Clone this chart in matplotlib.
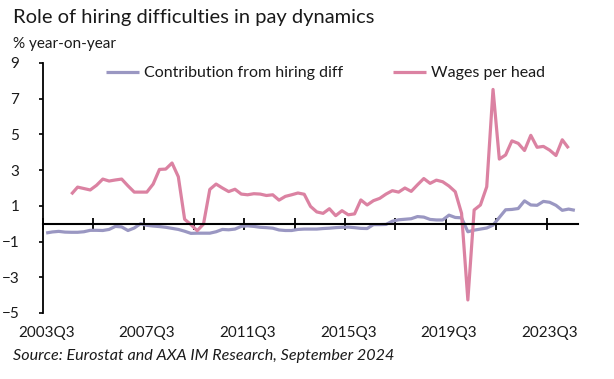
import numpy as np
import matplotlib
matplotlib.use("Agg")
import matplotlib.pyplot as plt

plt.rcParams['font.family'] = ['Lato', 'DejaVu Sans']

nan = float('nan')

# quarters 2003Q3 .. 2024Q3
quarters = [f"{2003 + (q + 2) // 4}Q{(q + 2) % 4 + 1}" for q in range(85)]

hiring_contrib = [
    -0.52, -0.46, -0.43, -0.47, -0.48, -0.48, -0.45, -0.37, -0.37, -0.38,
    -0.32, -0.15, -0.18, -0.38, -0.24, 0.00, -0.09, -0.13, -0.16, -0.20,
    -0.26, -0.32, -0.42, -0.54, -0.53, -0.53, -0.53, -0.45, -0.32, -0.34,
    -0.30, -0.15, -0.12, -0.15, -0.20, -0.22, -0.25, -0.35, -0.38, -0.38,
    -0.32, -0.30, -0.30, -0.30, -0.27, -0.25, -0.22, -0.20, -0.19, -0.22,
    -0.26, -0.27, -0.05, -0.05, -0.04, 0.14, 0.22, 0.25, 0.28, 0.40,
    0.37, 0.24, 0.21, 0.21, 0.48, 0.35, 0.33, -0.45, -0.36, -0.30,
    -0.24, -0.08, 0.35, 0.78, 0.80, 0.85, 1.28, 1.05, 1.03, 1.25,
    1.20, 1.03, 0.75, 0.82, 0.75,
]

wages_per_head = [
    nan, nan, nan, nan, 1.65, 2.05, 1.97, 1.89, 2.15, 2.50,
    2.39, 2.45, 2.50, 2.12, 1.77, 1.77, 1.77, 2.22, 3.04, 3.06,
    3.40, 2.63, 0.25, -0.05, -0.39, -0.02, 1.92, 2.22, 2.00, 1.80,
    1.93, 1.66, 1.62, 1.68, 1.66, 1.58, 1.62, 1.32, 1.53, 1.62,
    1.72, 1.65, 0.97, 0.66, 0.58, 0.84, 0.45, 0.73, 0.50, 0.55,
    1.33, 1.05, 1.29, 1.42, 1.66, 1.85, 1.77, 2.00, 1.81, 2.18,
    2.53, 2.26, 2.44, 2.35, 2.11, 1.79, 0.58, -4.27, 0.77, 1.05,
    2.07, 7.52, 3.62, 3.85, 4.64, 4.50, 4.10, 4.95, 4.28, 4.33,
    4.12, 3.82, 4.70, 4.23, nan,
]

y_ticks = [-5, -3, -1, 1, 3, 5, 7, 9]
label_every = 16
tick_every = 8

PURPLE = '#9a97c2'
PINK = '#db82a2'
TEXT = '#1a1a1a'

x = np.arange(len(quarters))

fig = plt.figure(figsize=(6.14, 3.79), dpi=100)
ax = fig.add_axes([43 / 614, 1 - 313 / 379, 535 / 614, 250 / 379])

ax.plot(x, hiring_contrib, color=PURPLE, lw=2.3, label='Contribution from hiring diff',
        solid_capstyle='butt')
ax.plot(x, wages_per_head, color=PINK, lw=2.3, label='Wages per head',
        solid_capstyle='butt')

ax.set_xlim(-0.5, len(quarters) - 0.5)
ax.set_ylim(-5, 9)
ax.set_yticks(y_ticks)
ax.tick_params(axis='y', direction='out', length=3, width=1.2, pad=14, labelsize=11,
               labelcolor=TEXT)

# zero line carries the x tick marks
ax.spines['top'].set_visible(False)
ax.spines['right'].set_visible(False)
ax.spines['left'].set_linewidth(1.3)
ax.spines['bottom'].set_position(('data', 0))
ax.spines['bottom'].set_linewidth(1.5)
ax.set_xticks(np.arange(-0.5, len(quarters), tick_every))
ax.tick_params(axis='x', direction='inout', length=8, width=1.3, labelbottom=False)

# category labels under the plot area
sec = ax.secondary_xaxis('bottom')
sec.set_xticks(x[::label_every])
sec.set_xticklabels(quarters[::label_every])
sec.tick_params(length=0, pad=9, labelsize=11, labelcolor=TEXT)
sec.spines['bottom'].set_visible(False)

leg = ax.legend(loc='upper center', bbox_to_anchor=(0.528, 1.045), ncol=2, frameon=False,
                fontsize=11.5, handlelength=2.1, handletextpad=0.3, columnspacing=3.1)
for t in leg.get_texts():
    t.set_color(TEXT)

fig.text(13 / 614, 1 - 17 / 379, 'Role of hiring difficulties in pay dynamics',
         fontsize=14.5, va='center', ha='left', color=TEXT)
fig.text(13 / 614, 1 - 44 / 379, '% year-on-year', fontsize=11, va='center', ha='left',
         color=TEXT)
fig.text(13 / 614, 1 - 356 / 379, 'Source: Eurostat and AXA IM Research, September 2024',
         fontsize=11.6, style='italic', va='center', ha='left', color=TEXT)

fig.savefig('out.png', dpi=100)
